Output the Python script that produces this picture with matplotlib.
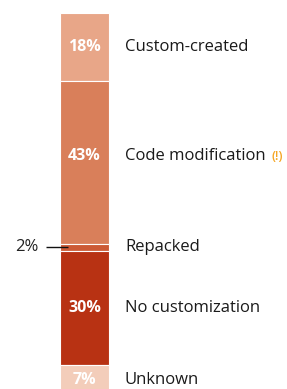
import matplotlib
matplotlib.use("Agg")
import matplotlib.pyplot as plt

categories = ["Custom-created", "Code modification", "Repacked", "No customization", "Unknown"]
values = [18, 43, 2, 30, 7]
pct_labels = ["18%", "43%", "2%", "30%", "7%"]
colors = ["#E8A688", "#D97F5A", "#CC5A35", "#B83213", "#F3CDBA"]
label_offsets = [0, -6, 0, 0, 2.5]  # vertical nudges in pixels for labels

W, H = 287, 389
fig = plt.figure(figsize=(W / 100, H / 100), dpi=100)
ax = fig.add_axes([0, 0, 1, 1])
px_per_pct = 3.78
top_px = 13
ax.set_xlim(0, W)
ax.set_ylim((H - top_px) / px_per_pct, -top_px / px_per_pct)
ax.axis("off")

font = "Open Sans"
bar_x = 84.5
bar_w = 49
bottom = 0
for cat, v, pl, c, off in zip(categories, values, pct_labels, colors, label_offsets):
    ax.bar(bar_x, v, bottom=bottom, width=bar_w, color=c, edgecolor="white", linewidth=0.8)
    mid = bottom + v / 2
    if v >= 5:
        ax.text(bar_x, mid + off / px_per_pct, pl, ha="center", va="center", color="white",
                fontsize=11.5, fontweight="bold", family=font)
    else:
        ax.text(38, mid, pl, ha="right", va="center", color="#222222", fontsize=12, family=font)
        ax.plot([46, 68], [mid, mid], color="#111111", lw=1.0, solid_capstyle="butt")
    t = ax.text(125, mid + off / px_per_pct, cat, ha="left", va="center", color="#1a1a1a",
                fontsize=12, family=font)
    if cat == "Code modification":
        ax.annotate("(!)", xy=(1, 0.5), xycoords=t, xytext=(4.5, 0), textcoords="offset points",
                    ha="left", va="center", color="#F5A623", fontsize=9, fontweight="semibold",
                    family=font)
    bottom += v

fig.savefig("out.png", dpi=100)
